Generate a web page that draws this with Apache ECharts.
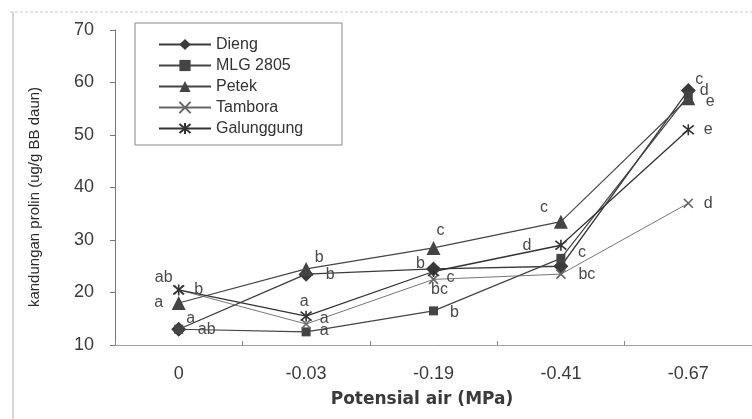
<!DOCTYPE html>
<html><head><meta charset="utf-8">
<script src="https://cdn.jsdelivr.net/npm/echarts@6/dist/echarts.min.js"></script>
<style>html,body{margin:0;padding:0;background:#fff}#c{width:752px;height:419px}</style>
</head><body><div id="c"></div>
<script>
// ---- data ----
const categories = ['0', '-0.03', '-0.19', '-0.41', '-0.67'];
const seriesNames = ['Dieng', 'MLG 2805', 'Petek', 'Tambora', 'Galunggung'];
const dieng      = [13.0, 23.5, 24.5, 25.0, 58.5];
const mlg2805    = [13.0, 12.5, 16.5, 26.5, 57.5];
const petek      = [18.0, 24.5, 28.5, 33.5, 57.0];
const tambora    = [20.5, 14.0, 22.5, 23.5, 37.0];
const galunggung = [20.5, 15.5, 24.0, 29.0, 51.0];
const diengLetters      = ['a', 'b', 'b', '', 'c'];
const mlgLetters        = ['ab', 'a', 'b', 'c', 'd'];
const petekLetters      = ['a', 'b', 'c', 'c', 'e'];
const tamboraLetters    = ['b', 'a', 'bc', 'bc', 'd'];
const galunggungLetters = ['ab', 'a', 'c', 'd', 'e'];
const yTicks = [10, 20, 30, 40, 50, 60, 70];

// ---- layout / style (not data) ----
const letterOffsets = [
  [[12,-11],[24,0],[-13,-5],[0,0],[11,-11]],
  [[28,0],[18,-1],[21,2],[21,-6],[16,-5]],
  [[-20,0],[13,-11],[7,-17],[-17,-14],[22,3]],
  [[20,0],[18,-5],[6,10],[26,0],[20,0]],
  [[-15,-12],[-2,-15],[17,6],[-34,0],[20,0]]
];
const X_PATH = 'path://M0,0L10,10M10,0L0,10';
const AST_PATH = 'path://M0,1L10,9M10,1L0,9M5,0L5,10';
const styles = [
  {symbol:'diamond', size:15, color:'#3a3a3a', width:1.3},
  {symbol:'rect', size:9, color:'#444', width:1.2},
  {symbol:'triangle', size:14, color:'#444', width:1.1},
  {symbol:X_PATH, size:9, color:'#666', width:0.9},
  {symbol:AST_PATH, size:11, color:'#333', width:1.3}
];
const values = [dieng, mlg2805, petek, tambora, galunggung];
const letters = [diengLetters, mlgLetters, petekLetters, tamboraLetters, galunggungLetters];

const FONT = 'Liberation Sans, Arial, sans-serif';

const series = seriesNames.map((name, i) => {
  const st = styles[i];
  const stroke = i >= 3;
  return {
    name, type: 'line',
    data: values[i].map((v, j) => ({
      value: v,
      label: {
        show: letters[i][j] !== '',
        formatter: letters[i][j],
        position: 'inside',
        offset: letterOffsets[i][j],
        color: '#4a4a4a', fontSize: 16, fontFamily: FONT
      }
    })),
    symbol: st.symbol, symbolSize: st.size, showAllSymbol: true,
    lineStyle: {color: st.color, width: st.width},
    itemStyle: stroke ? {color: st.color, borderColor: st.color, borderWidth: 1.6}
                      : {color: st.color, borderWidth: 0},
    emphasis: {disabled: true},
    animation: false
  };
});

const chart = echarts.init(document.getElementById('c'), null, {renderer: 'canvas'});
chart.setOption({
  animation: false,
  backgroundColor: '#fff',
  grid: {left: 115, right: -5, top: 30, bottom: 74, containLabel: false},
  xAxis: {
    type: 'category', data: categories, boundaryGap: true,
    axisLine: {lineStyle: {color: '#a0a0a0', width: 1}},
    axisTick: {show: true, inside: true, length: 4, lineStyle: {color: '#888'}},
    axisLabel: {color: '#3a3a3a', fontSize: 18, fontFamily: FONT, margin: 20},
    splitLine: {show: false}
  },
  yAxis: {
    type: 'value', min: yTicks[0], max: yTicks[yTicks.length - 1], interval: 10,
    axisLine: {show: true, lineStyle: {color: '#777', width: 1}},
    axisTick: {show: true, length: 5, lineStyle: {color: '#777'}},
    axisLabel: {color: '#3a3a3a', fontSize: 18, fontFamily: FONT, margin: 21},
    splitLine: {show: false}
  },
  legend: {
    orient: 'vertical', left: 153, top: 31,
    itemWidth: 52, itemHeight: 14, itemGap: 4,
    textStyle: {fontSize: 16, fontFamily: FONT, color: '#333', lineHeight: 17},
    data: seriesNames
  },
  graphic: [
    {type: 'rect', shape: {x: 135, y: 23, width: 207, height: 122},
     style: {fill: 'none', stroke: '#888', lineWidth: 1}, silent: true, z: 10},
    {type: 'line', shape: {x1: 10, y1: 12, x2: 752, y2: 12},
     style: {stroke: '#c8c8c8', lineWidth: 1, lineDash: [3, 2]}, silent: true},
    {type: 'line', shape: {x1: 13, y1: 12, x2: 13, y2: 419},
     style: {stroke: '#b0b0b0', lineWidth: 1}, silent: true},
    {type: 'text', x: 422, y: 400,
     style: {text: 'Potensial air (MPa)', font: 'bold 17px DejaVu Sans, sans-serif',
             fill: '#3a3a3a', align: 'center', verticalAlign: 'middle'}, silent: true},
    {type: 'text', x: 35, y: 197, rotation: Math.PI / 2,
     style: {text: 'kandungan prolin (ug/g BB daun)', font: '15px ' + FONT,
             fill: '#2a2a2a', align: 'center', verticalAlign: 'middle'}, silent: true}
  ],
  series
});
</script></body></html>
